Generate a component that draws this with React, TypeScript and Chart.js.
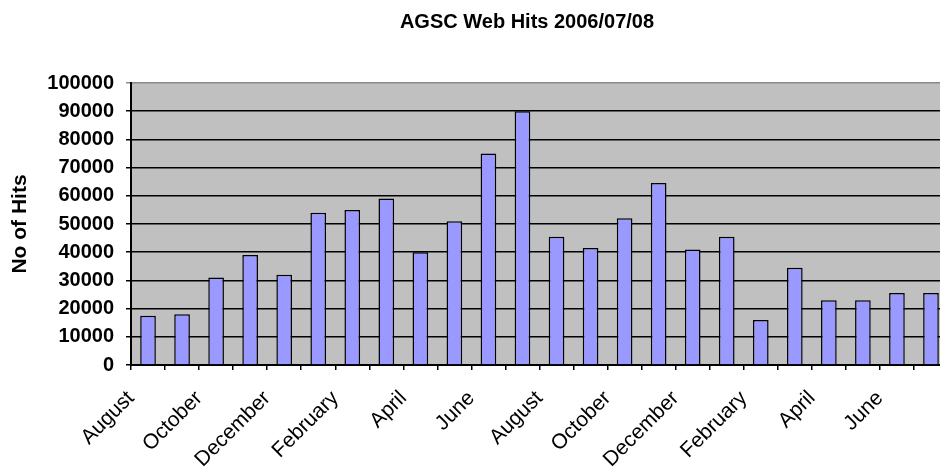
import { useEffect, useRef } from 'react';
import { Chart, registerables } from 'chart.js';

Chart.register(...registerables);

const TITLE = 'AGSC Web Hits 2006/07/08';
const Y_TITLE = 'No of Hits';

const months = [
  'August', 'September', 'October', 'November', 'December', 'January',
  'February', 'March', 'April', 'May', 'June', 'July',
  'August', 'September', 'October', 'November', 'December', 'January',
  'February', 'March', 'April', 'May', 'June', 'July',
];
const shownLabels = [
  'August', '', 'October', '', 'December', '',
  'February', '', 'April', '', 'June', '',
  'August', '', 'October', '', 'December', '',
  'February', '', 'April', '', 'June', '',
];
const hits = [
  17500, 18000, 31000, 39000, 32000, 54000,
  55000, 59000, 40000, 51000, 75000, 90000,
  45500, 41500, 52000, 64500, 41000, 45500,
  16000, 34500, 23000, 23000, 25500, 25500,
];
const Y_MIN = 0;
const Y_MAX = 100000;
const Y_STEP = 10000;

const FONT = '"Liberation Sans", Arial, sans-serif';

const plotBg = {
  id: 'plotBg',
  beforeDraw(chart: any) {
    const { ctx, chartArea } = chart;
    if (!chartArea) return;
    ctx.save();
    ctx.fillStyle = '#C0C0C0';
    ctx.fillRect(chartArea.left, chartArea.top, chartArea.right - chartArea.left, chartArea.bottom - chartArea.top);
    ctx.restore();
  },
};

const titlePlugin = {
  id: 'customTitle',
  afterDraw(chart: any) {
    const { ctx } = chart;
    ctx.save();
    ctx.fillStyle = '#000';
    ctx.font = `bold 20px ${FONT}`;
    ctx.textAlign = 'center';
    ctx.textBaseline = 'middle';
    ctx.fillText(TITLE, 527, 22);
    ctx.restore();
  },
};

export default function App() {
  const ref = useRef<HTMLCanvasElement>(null);

  useEffect(() => {
    if (!ref.current) return;
    const chart = new Chart(ref.current, {
      type: 'bar',
      data: {
        labels: months,
        datasets: [
          {
            data: hits,
            backgroundColor: '#9999FF',
            borderColor: '#000000',
            borderWidth: 1.5,
            barPercentage: 0.46,
            categoryPercentage: 1,
          },
        ],
      },
      options: {
        animation: false,
        responsive: false,
        devicePixelRatio: 1,
        layout: { padding: { top: 83, left: 0, right: 0, bottom: 0 } },
        plugins: {
          legend: { display: false },
          tooltip: { enabled: false },
          title: { display: false },
        },
        scales: {
          x: {
            offset: true,
            afterFit: (s: any) => {
              s.height = 109;
              s.paddingLeft = 0;
              s.paddingRight = 0;
            },
            grid: {
              offset: true,
              drawOnChartArea: false,
              drawTicks: true,
              tickLength: 5,
              color: '#000',
              lineWidth: 1.5,
            },
            border: { display: true, color: '#000', width: 2 },
            ticks: {
              autoSkip: false,
              minRotation: 45,
              maxRotation: 45,
              labelOffset: -17,
              padding: 16,
              color: '#000',
              font: { family: FONT, size: 21 },
              callback: (_v: any, i: number) => shownLabels[i],
            },
          },
          y: {
            min: Y_MIN,
            max: Y_MAX,
            afterFit: (s: any) => { s.width = 131; },
            title: {
              display: true,
              text: Y_TITLE,
              color: '#000',
              font: { family: FONT, size: 21, weight: 'bold' },
              padding: { top: 8, bottom: 0 },
            },
            grid: {
              color: (c: any) => (c.tick && c.tick.value === Y_MAX ? '#8a8a8a' : '#000'),
              lineWidth: 1.5,
              tickLength: 5,
              drawTicks: true,
            },
            border: { display: true, color: '#000', width: 2 },
            ticks: {
              stepSize: Y_STEP,
              padding: 12,
              color: '#000',
              font: { family: FONT, size: 20, weight: 'bold' },
              callback: (v: any) => String(v),
            },
          },
        },
      },
      plugins: [plotBg, titlePlugin],
    });
    return () => chart.destroy();
  }, []);

  return (
    <div style={{ position: 'fixed', left: 0, top: 0, width: 940, height: 474, overflow: 'hidden', background: '#fff' }}>
      <canvas ref={ref} width={948} height={474} style={{ width: 948, height: 474, display: 'block' }} />
    </div>
  );
}
